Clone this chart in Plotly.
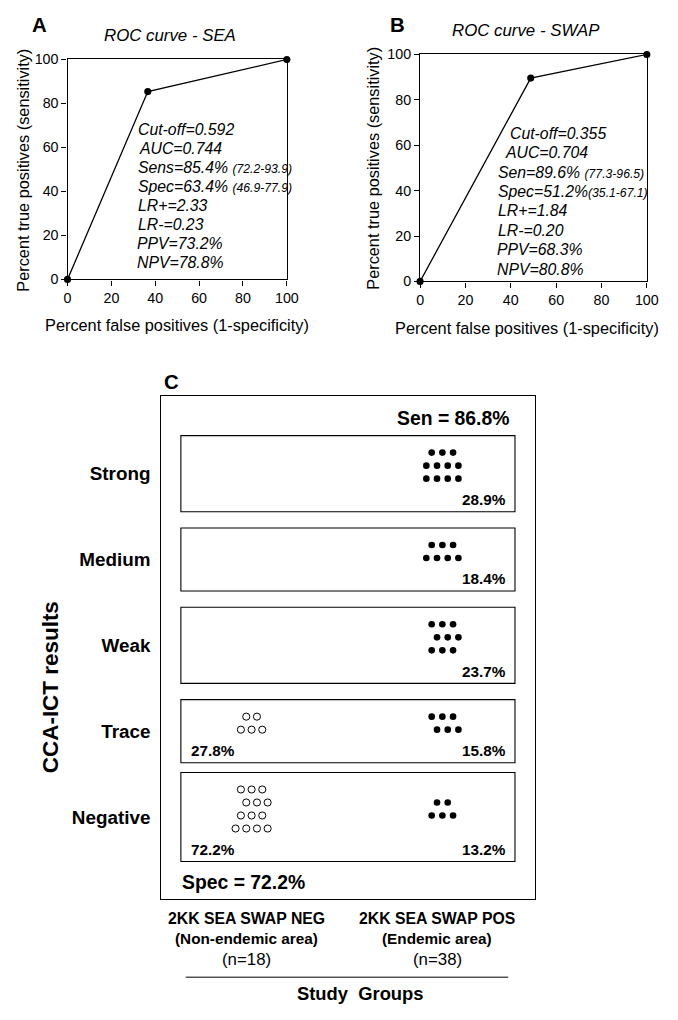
import math
import plotly.graph_objects as go

# the page keeps the browser's 8px body margin, so the figure is 16px smaller than
# the 678x1020 window; the photo comes out slightly scaled, so target pixel positions
# are corrected with the measured factors below
W, H, OFF = 662, 1004, 8
SX, BX, SY, BY = 0.977, 4.3, 0.983, 8.0
FS = 1.02
FONT = "Liberation Sans, Arial, sans-serif"

# ROC curve points (percent false positives, percent true positives)
sea_fpr = [0, 36.6, 100]
sea_tpr = [0, 85.4, 100]
swap_fpr = [0, 48.8, 100]
swap_tpr = [0, 89.6, 100]

sea_stats = ["Cut-off=0.592", "AUC=0.744", "Sens=85.4% ", "Spec=63.4% ",
             "LR+=2.33", "LR-=0.23", "PPV=73.2%", "NPV=78.8%"]
sea_ci = ["", "", "(72.2-93.9)", "(46.9-77.9)", "", "", "", ""]
swap_stats = ["Cut-off=0.355", "AUC=0.704", "Sen=89.6% ", "Spec=51.2%",
              "LR+=1.84", "LR-=0.20", "PPV=68.3%", "NPV=80.8%"]
swap_ci = ["", "", "(77.3-96.5)", "(35.1-67.1)", "", "", "", ""]

# CCA-ICT dot plot
categories = ["Strong", "Medium", "Weak", "Trace", "Negative"]
neg_counts = [0, 0, 0, 5, 13]
pos_counts = [11, 7, 9, 6, 5]
groups = ["2KK SEA SWAP NEG", "2KK SEA SWAP POS"]
group_areas = ["(Non-endemic area)", "(Endemic area)"]


def fx(px):
    return ((px - BX) / SX - OFF) / W


def fy(py):
    return 1 - ((py - BY) / SY - OFF) / H


def dot_offsets(n, dx=10.7, dy=13):
    # pack n dots in rows of up to 4, centred on 0 (pixels)
    if n == 0:
        return [], []
    nrows = math.ceil(n / 4)
    base, extra = divmod(n, nrows)
    counts = [base + (1 if r >= nrows - extra else 0) for r in range(nrows)]
    xs, ys = [], []
    for r, c in enumerate(counts):
        shift = dx / 2 if (r % 2 == 1 and counts[r] % 2 == counts[r - 1] % 2) else 0
        for k in range(c):
            xs.append((k - (c - 1) / 2) * dx + shift)
            ys.append((r - (nrows - 1) / 2) * dy)
    return xs, ys


fig = go.Figure()

# ---- panels A and B ----
fig.add_trace(go.Scatter(x=sea_fpr, y=sea_tpr, mode="lines+markers", xaxis="x", yaxis="y",
                         line=dict(color="black", width=1.3),
                         marker=dict(color="black", size=7 * FS), cliponaxis=False))
fig.add_trace(go.Scatter(x=swap_fpr, y=swap_tpr, mode="lines+markers", xaxis="x2", yaxis="y2",
                         line=dict(color="black", width=1.3),
                         marker=dict(color="black", size=7 * FS), cliponaxis=False))

roc_axis = dict(range=[0, 100], tickvals=[0, 20, 40, 60, 80, 100], ticks="outside",
                ticklen=5, tickwidth=1.2, tickcolor="black", showline=True, mirror=True,
                linecolor="black", linewidth=1.3, showgrid=False, zeroline=False,
                tickfont=dict(size=14 * FS, color="black"))

annotations = []


def add_text(text, x, y, size, xanchor="center", xref="paper", yref="paper", angle=0, **kw):
    annotations.append(dict(text=text, x=x, y=y, xref=xref, yref=yref, showarrow=False,
                            xanchor=xanchor, yanchor="middle", textangle=angle,
                            font=dict(size=size * FS, color="black", family=FONT), **kw))


def roc_panel(letter, letter_xy, title, title_xy, xt_xy, yt_xy, stats, ci, x0, y0, step, indent):
    add_text("<b>" + letter + "</b>", fx(letter_xy[0]), min(fy(letter_xy[1]), 1 - 9 / H), 20)
    add_text("<i>" + title + "</i>", fx(title_xy[0]), fy(title_xy[1]), 16.5)
    add_text("Percent false positives (1-specificity)", min(fx(xt_xy[0]), 1 - 134 / W),
             fy(xt_xy[1]), 16)
    add_text("Percent true positives (sensitivity)", fx(yt_xy[0]), fy(yt_xy[1]), 16, angle=-90)
    for i, (s, c) in enumerate(zip(stats, ci)):
        txt = "<i>" + s + "</i>"
        if c:
            txt += "<span style='font-size:%.1fpx'><i>%s</i></span>" % (12 * FS, c)
        add_text(txt, fx(x0 + indent[i]), fy(y0 + i * step), 15.5, xanchor="left")


roc_panel("A", (39.5, 16.5), "ROC curve - SEA", (170, 35), (177, 325), (23.5, 170),
          sea_stats, sea_ci, 136, 129, 19.0, [0, 1, 0, 0, 0, 0, -1, -1])
roc_panel("B", (398.5, 17), "ROC curve - SWAP", (527, 30), (533, 328), (374, 168),
          swap_stats, swap_ci, 496, 133, 19.4, [13, 8, 1, 1, 1, 1, 0, 0])

# ---- panel C ----
c_left, c_right, c_top, c_bottom = 161.7, 535.7, 395, 898.3
gx = [252, 443]          # pixel centre of each group column
sx = gx[1] - gx[0]       # pixels per x unit
row0, sy = 473, 85.75    # pixel centre of first category, pixels per category
xr = [(c_left - gx[0]) / sx, (c_right - gx[0]) / sx]
yr = [(c_bottom - row0) / sy, (c_top - row0) / sy]

shapes = []
box_x0 = xr[0] + 19.5 / sx
box_x1 = xr[1] - 20 / sx
n_neg, n_pos = sum(neg_counts), sum(pos_counts)

for gi, counts in enumerate([neg_counts, pos_counts]):
    xs, ys = [], []
    for ci, n in enumerate(counts):
        ox, oy = dot_offsets(n)
        xs += [gi + v / sx for v in ox]
        ys += [ci + (v - 8) / sy for v in oy]
    if gi == 0:
        mk = dict(color="white", size=7 * FS, line=dict(color="black", width=1))
    else:
        mk = dict(color="black", size=6.5 * FS, line=dict(width=0))
    fig.add_trace(go.Scatter(x=xs, y=ys, mode="markers", xaxis="x3", yaxis="y3",
                             marker=mk, cliponaxis=False))

for ci, cat in enumerate(categories):
    nrows = max(math.ceil(neg_counts[ci] / 4), math.ceil(pos_counts[ci] / 4))
    h = 37 + 13 * nrows
    shapes.append(dict(type="rect", xref="x3", yref="y3", x0=box_x0, x1=box_x1,
                       y0=ci - h / 2 / sy, y1=ci + h / 2 / sy,
                       line=dict(color="black", width=1.1)))
    ylab = ci + (h / 2 - 12) / sy
    if pos_counts[ci]:
        add_text("<b>%.1f%%</b>" % (100 * pos_counts[ci] / n_pos), box_x1 - 7 / sx, ylab, 15,
                 xanchor="right", xref="x3", yref="y3")
    if neg_counts[ci]:
        add_text("<b>%.1f%%</b>" % (100 * neg_counts[ci] / n_neg), box_x0 + 8 / sx, ylab, 15,
                 xanchor="left", xref="x3", yref="y3")

sen = 100 * (n_pos - pos_counts[-1]) / n_pos
spec = 100 * neg_counts[-1] / n_neg
add_text("<b>Sen = %.1f%%</b>" % sen, fx(512), fy(417), 19, xanchor="right")
add_text("<b>Spec = %.1f%%</b>" % spec, fx(180), fy(881), 19, xanchor="left")
add_text("<b>C</b>", fx(172), fy(381), 20)
add_text("<b>CCA-ICT results</b>", fx(51.5), fy(686), 22, angle=-90)

for gi, (g, a, n) in enumerate(zip(groups, group_areas, [n_neg, n_pos])):
    add_text("<b>" + g + "</b>", gi - 5 / sx, fy(917), 15.5, xref="x3")
    add_text("<b>" + a + "</b>", gi - 5 / sx, fy(937), 15, xref="x3")
    add_text("(n=%d)" % n, gi - 5 / sx, fy(958), 16.5, xref="x3")

shapes.append(dict(type="line", xref="paper", yref="paper", x0=fx(186), x1=fx(509),
                   y0=fy(976), y1=fy(976), line=dict(color="black", width=1)))
add_text("<b>Study\u00a0\u00a0Groups</b>", fx(361), max(fy(999), 11 / H), 18)

fig.update_layout(
    width=W, height=H, margin=dict(l=0, r=0, t=0, b=0),
    paper_bgcolor="white", plot_bgcolor="white", showlegend=False,
    font=dict(family=FONT, color="black", size=14),
    xaxis=dict(roc_axis, domain=[fx(67.7), fx(287.3)], anchor="y"),
    yaxis=dict(roc_axis, domain=[fy(279), fy(59.3)], anchor="x"),
    xaxis2=dict(roc_axis, domain=[fx(420.7), fx(647.7)], anchor="y2"),
    yaxis2=dict(roc_axis, domain=[fy(281), fy(54.3)], anchor="x2"),
    xaxis3=dict(domain=[fx(c_left), fx(c_right)], range=xr, anchor="y3",
                showline=True, mirror=True, linecolor="black", linewidth=1.3,
                showgrid=False, zeroline=False, showticklabels=False, ticks=""),
    yaxis3=dict(domain=[fy(c_bottom), fy(c_top)], range=yr, anchor="x3",
                showline=True, mirror=True, linecolor="black", linewidth=1.3,
                showgrid=False, zeroline=False, ticks="",
                tickvals=list(range(len(categories))),
                ticktext=["<b>" + c + "</b>" for c in categories],
                tickfont=dict(size=18.5 * FS, color="black"), ticklabelstandoff=6),
    annotations=annotations,
    shapes=shapes,
)

fig.write_html("out.html", config={"displayModeBar": False})
